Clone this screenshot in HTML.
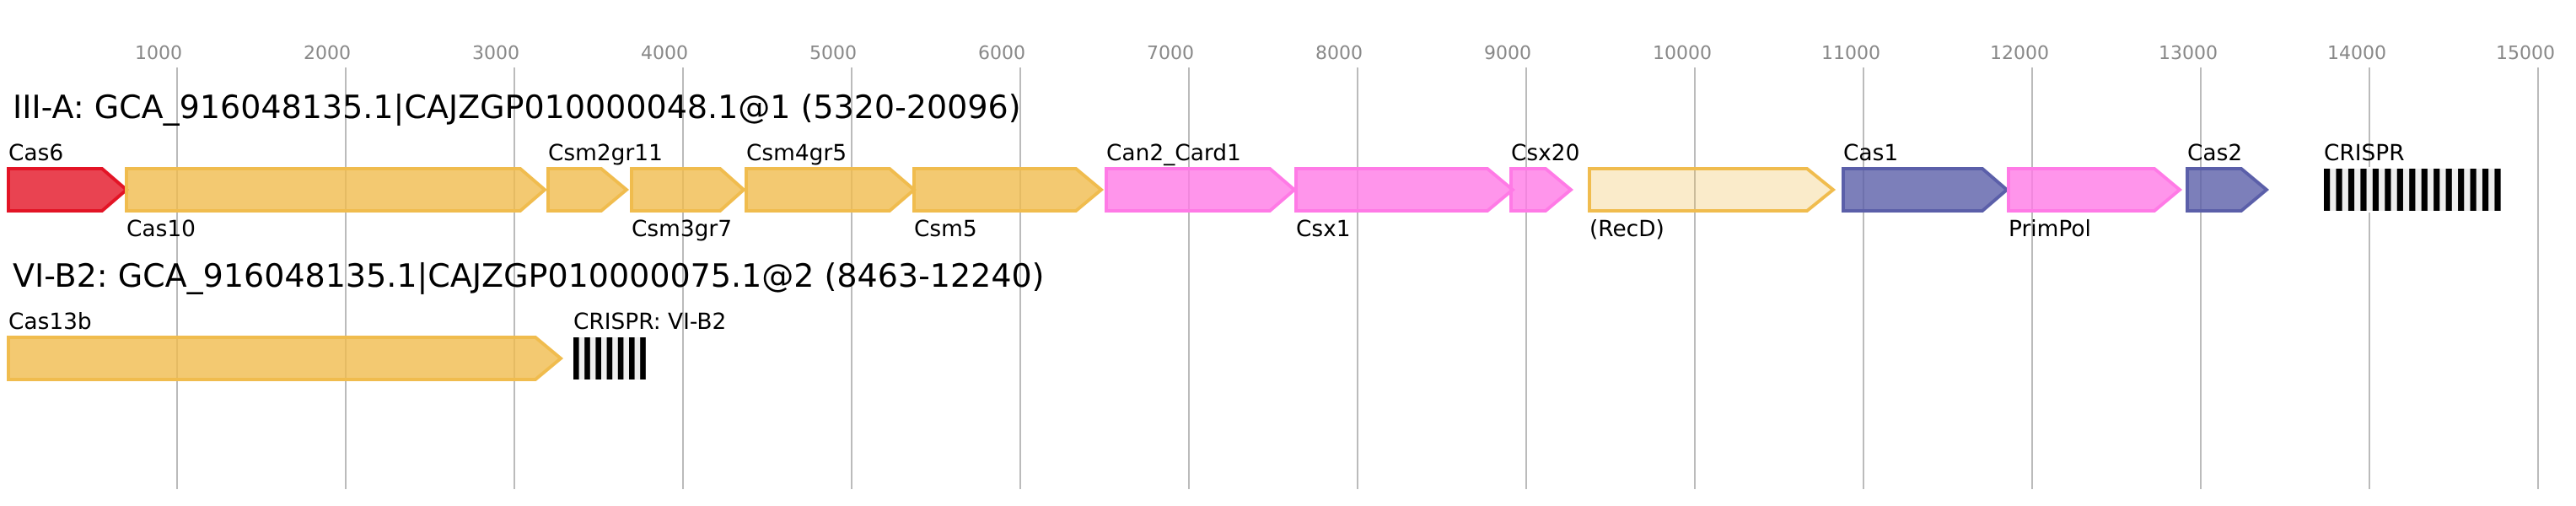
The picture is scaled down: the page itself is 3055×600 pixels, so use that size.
<!DOCTYPE html>
<html>
<head>
<meta charset="utf-8">
<style>
html,body{margin:0;padding:0;background:#fff;width:3055px;height:600px;overflow:hidden}
svg{display:block}
text{font-family:"DejaVu Sans","Liberation Sans",sans-serif;fill:#000;text-rendering:geometricPrecision}
.t{font-size:38px}
.l{font-size:26.4px}
.k{font-size:22px;fill:#888}
.g{stroke-width:4;fill-opacity:.8}
.y{fill:#f0bc4e;stroke:#f0bc4e}
.r{fill:#e31426;stroke:#e31426}
.p{fill:#ff7ae6;stroke:#ff7ae6}
.b{fill:#5b5fa9;stroke:#5b5fa9}
</style>
</head>
<body>
<svg xmlns="http://www.w3.org/2000/svg" width="3055" height="600" viewBox="0 0 3055 600">
<rect width="3055" height="600" fill="#fff"/>
<g stroke="#bbb" stroke-width="2">
<line x1="210" y1="80" x2="210" y2="580"/><line x1="410" y1="80" x2="410" y2="580"/><line x1="610" y1="80" x2="610" y2="580"/>
<line x1="810" y1="80" x2="810" y2="580"/><line x1="1010" y1="80" x2="1010" y2="580"/><line x1="1210" y1="80" x2="1210" y2="580"/>
<line x1="1410" y1="80" x2="1410" y2="580"/><line x1="1610" y1="80" x2="1610" y2="580"/><line x1="1810" y1="80" x2="1810" y2="580"/>
<line x1="2010" y1="80" x2="2010" y2="580"/><line x1="2210" y1="80" x2="2210" y2="580"/><line x1="2410" y1="80" x2="2410" y2="580"/>
<line x1="2610" y1="80" x2="2610" y2="580"/><line x1="2810" y1="80" x2="2810" y2="580"/><line x1="3010" y1="80" x2="3010" y2="580"/>
</g>
<g class="k">
<text class="k" x="160" y="70">1000</text><text class="k" x="360" y="70">2000</text><text class="k" x="560" y="70">3000</text>
<text class="k" x="760" y="70">4000</text><text class="k" x="960" y="70">5000</text><text class="k" x="1160" y="70">6000</text>
<text class="k" x="1360" y="70">7000</text><text class="k" x="1560" y="70">8000</text><text class="k" x="1760" y="70">9000</text>
<text class="k" x="1960" y="70">10000</text><text class="k" x="2160" y="70">11000</text><text class="k" x="2360" y="70">12000</text>
<text class="k" x="2560" y="70">13000</text><text class="k" x="2760" y="70">14000</text><text class="k" x="2960" y="70">15000</text>
</g>
<text class="t" x="15" y="140">III-A: GCA_916048135.1|CAJZGP010000048.1@1 (5320-20096)</text>
<text class="t" x="15" y="340">VI-B2: GCA_916048135.1|CAJZGP010000075.1@2 (8463-12240)</text>

<polygon class="g r" points="10,200 121,200 150,225 121,250 10,250"/>
<polygon class="g y" points="150,200 617,200 646,225 617,250 150,250"/>
<polygon class="g y" points="650,200 713,200 743,225 713,250 650,250"/>
<polygon class="g y" points="749,200 854,200 882,225 854,250 749,250"/>
<polygon class="g y" points="885,200 1055,200 1084,225 1055,250 885,250"/>
<polygon class="g y" points="1084,200 1276,200 1306,225 1276,250 1084,250"/>
<polygon class="g p" points="1312,200 1506,200 1535,225 1506,250 1312,250"/>
<polygon class="g p" points="1537,200 1764,200 1794,225 1764,250 1537,250"/>
<polygon class="g p" points="1792,200 1833,200 1863,225 1833,250 1792,250"/>
<polygon class="g y" style="fill-opacity:.3" points="1885,200 2143,200 2174,225 2143,250 1885,250"/>
<polygon class="g b" points="2186,200 2351,200 2380,225 2351,250 2186,250"/>
<polygon class="g p" points="2382,200 2555,200 2585,225 2555,250 2382,250"/>
<polygon class="g b" points="2594,200 2658,200 2688,225 2658,250 2594,250"/>
<polygon class="g y" points="10,400 635,400 665,425 635,450 10,450"/>

<rect x="2754" y="198" width="214" height="54" fill="#fff"/>
<rect x="2756" y="200" width="210" height="50" fill="#eee"/>
<g fill="#000">
<rect x="2756" y="200" width="7.2" height="50"/><rect x="2770.46" y="200" width="7.2" height="50"/><rect x="2784.92" y="200" width="7.2" height="50"/>
<rect x="2799.38" y="200" width="7.2" height="50"/><rect x="2813.84" y="200" width="7.2" height="50"/><rect x="2828.3" y="200" width="7.2" height="50"/>
<rect x="2842.76" y="200" width="7.2" height="50"/><rect x="2857.22" y="200" width="7.2" height="50"/><rect x="2871.68" y="200" width="7.2" height="50"/>
<rect x="2886.14" y="200" width="7.2" height="50"/><rect x="2900.6" y="200" width="7.2" height="50"/><rect x="2915.06" y="200" width="7.2" height="50"/>
<rect x="2929.52" y="200" width="7.2" height="50"/><rect x="2943.98" y="200" width="7.2" height="50"/><rect x="2958.44" y="200" width="7.2" height="50"/>
</g>
<rect x="680" y="400" width="86" height="50" fill="#eee"/>
<g fill="#000">
<rect x="680" y="400" width="6.6" height="50"/><rect x="693.2" y="400" width="6.6" height="50"/><rect x="706.4" y="400" width="6.6" height="50"/>
<rect x="719.6" y="400" width="6.6" height="50"/><rect x="732.8" y="400" width="6.6" height="50"/><rect x="746" y="400" width="6.6" height="50"/>
<rect x="759.2" y="400" width="6.6" height="50"/>
</g>

<text class="l" x="10" y="190">Cas6</text>
<text class="l" x="150" y="280">Cas10</text>
<text class="l" x="650" y="190">Csm2gr11</text>
<text class="l" x="749" y="280">Csm3gr7</text>
<text class="l" x="885" y="190">Csm4gr5</text>
<text class="l" x="1084" y="280">Csm5</text>
<text class="l" x="1312" y="190">Can2_Card1</text>
<text class="l" x="1537" y="280">Csx1</text>
<text class="l" x="1792" y="190">Csx20</text>
<text class="l" x="1885" y="280">(RecD)</text>
<text class="l" x="2186" y="190">Cas1</text>
<text class="l" x="2382" y="280">PrimPol</text>
<text class="l" x="2594" y="190">Cas2</text>
<text class="l" x="2756" y="190">CRISPR</text>
<text class="l" x="10" y="390">Cas13b</text>
<text class="l" x="680" y="390">CRISPR: VI-B2</text>
</svg>
</body>
</html>
